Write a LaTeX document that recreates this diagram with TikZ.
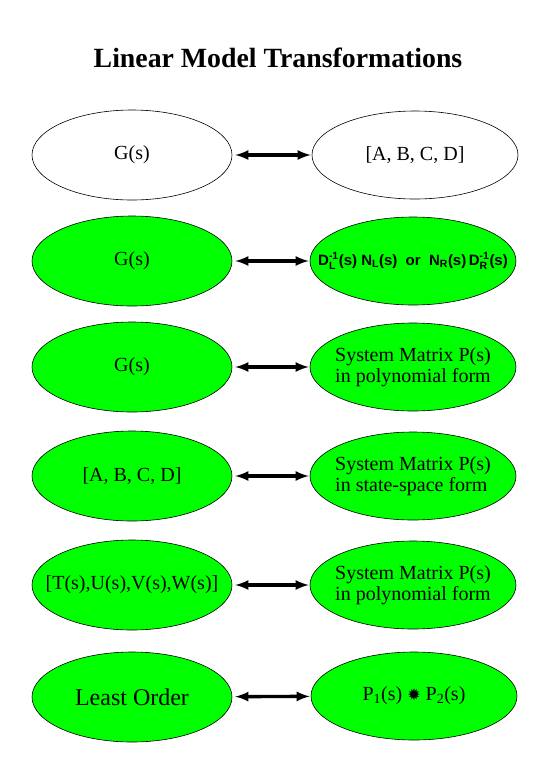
\documentclass[tikz,border=0pt]{standalone}
\usepackage{amsmath}
\usepackage{fontspec}
\setmainfont{Liberation Serif}
\newfontfamily\arialfont{Liberation Sans}
\newfontfamily\symbfont{DejaVu Sans}
\usetikzlibrary{arrows,shapes.geometric}

\definecolor{modelgreen}{RGB}{0,255,0}

\begin{document}
\begin{tikzpicture}[
      x=1pt, y=-1pt,
      model/.style={
        draw,
        ellipse,
        inner sep=0pt,
        line width=0.6pt,
        minimum width=200pt,
        minimum height=90pt
      },
      leftmodel/.style={model},
      rightmodel/.style={model, minimum width=206pt, minimum height=88pt},
      green/.style={fill=modelgreen},
      txt/.style={font=\fontsize{20}{20.5}\selectfont, align=left},
      link/.style={latex-latex, line width=3.4pt, shorten <=3pt, shorten >=1pt}
    ]
      \path[use as bounding box] (0,0) rectangle (540,780);

      % Title
      \node[font=\bfseries\fontsize{27.8}{30}\selectfont] (title) at (278,58) {Linear Model Transformations};

      % Left column
      \node[leftmodel, label={[txt]center:{G(s)}}] (l1) at (132,155) {};
      \node[leftmodel, green, label={[txt]center:{G(s)}}] (l2) at (132,261) {};
      \node[leftmodel, green, label={[txt]center:{G(s)}}] (l3) at (132,367) {};
      \node[leftmodel, green, label={[txt]center:{[A, B, C, D]}}] (l4) at (132,476) {};
      \node[leftmodel, green, label={[txt]center:{[T(s),U(s),V(s),W(s)]}}] (l5) at (132,585) {};
      \node[leftmodel, green, label={[txt, font=\fontsize{24}{25}\selectfont]center:{Least Order}}] (l6) at (132,697) {};

      % Right column
      \node[rightmodel, label={[txt]center:{[A, B, C, D]}}] (r1) at (415,155) {};
      \node[rightmodel, green, label={[font=\arialfont\bfseries\fontsize{15}{16}\selectfont]center:{D$^{\text{-1}}_{\text{L}}$(s) N$_{\text{L}}$(s)\ \ or\ \ N$_{\text{R}}$(s)\,D$^{\text{-1}}_{\text{R}}$(s)}}] (r2) at (413,261) {};
      \node[rightmodel, green, label={[txt]center:{System Matrix P(s)\\in polynomial form}}] (r3) at (413,367) {};
      \node[rightmodel, green, label={[txt]center:{System Matrix P(s)\\in state-space form}}] (r4) at (413,476) {};
      \node[rightmodel, green, label={[txt]center:{System Matrix P(s)\\in polynomial form}}] (r5) at (413,585) {};
      \node[rightmodel, green, label={[txt]center:{P\textsubscript{1}(s) {\symbfont\fontsize{16}{16}\selectfont ✹} P\textsubscript{2}(s)}}] (r6) at (414,696) {};

      % Connections
      \foreach \i in {1,...,6}
        \draw[link] (l\i) -- (r\i);
    \end{tikzpicture}
\end{document}
